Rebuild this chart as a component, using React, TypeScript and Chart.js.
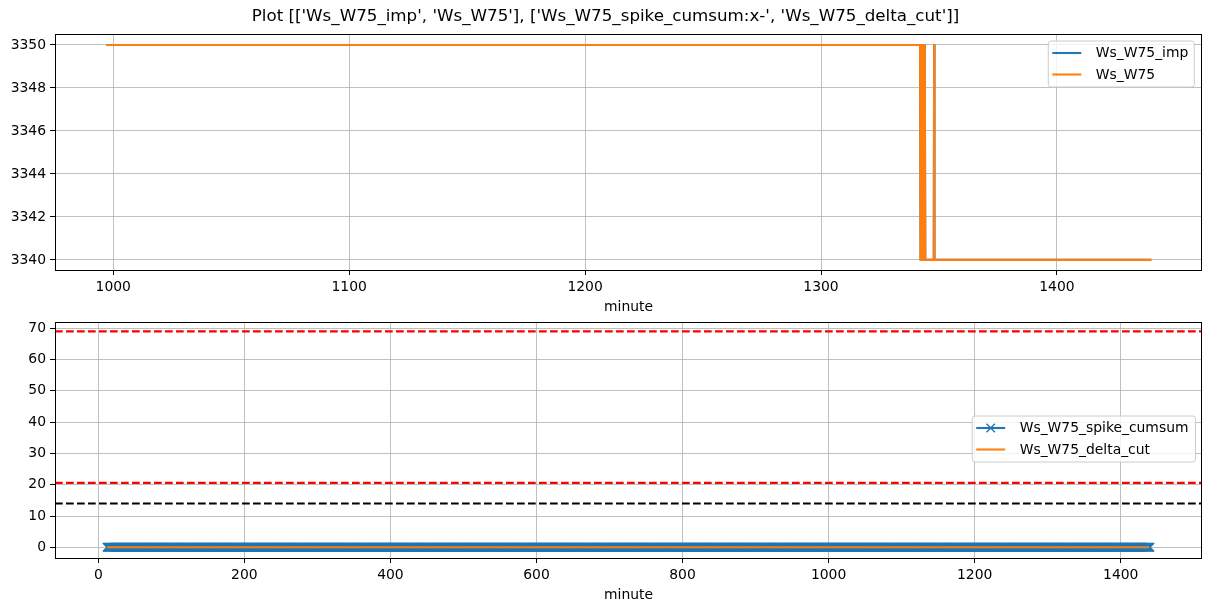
import React, { useEffect, useRef } from "react";
import { Chart, registerables } from "chart.js";

Chart.register(...registerables);

// ---------------- data ----------------
const TITLE =
  "Plot [['Ws_W75_imp', 'Ws_W75'], ['Ws_W75_spike_cumsum:x-', 'Ws_W75_delta_cut']]";

// Top panel: change points of the signal (minute, value)
const topMinutes = [
  997, 1342.0, 1342.2, 1342.4, 1342.6, 1342.8, 1343.0, 1343.2, 1343.4, 1343.6,
  1343.8, 1344.0, 1344.2, 1347.8, 1347.95, 1348.1, 1440,
];
const wsW75ImpValues = [
  3350, 3350, 3340, 3350, 3340, 3350, 3340, 3350, 3340, 3350, 3340, 3350, 3340,
  3340, 3350, 3340, 3340,
];
const wsW75Values = [
  3350, 3350, 3340, 3350, 3340, 3350, 3340, 3350, 3340, 3350, 3340, 3350, 3340,
  3340, 3350, 3340, 3340,
];
const topXTicks = [1000, 1100, 1200, 1300, 1400];
const topYTicks = [3340, 3342, 3344, 3346, 3348, 3350];

// Bottom panel: one sample per minute
const bottomFirstMinute = 12;
const bottomLastMinute = 1440;
const bottomMinutes = Array.from(
  { length: bottomLastMinute - bottomFirstMinute + 1 },
  (_, i) => bottomFirstMinute + i
);
const spikeCumsumValues = bottomMinutes.map(() => 0);
const deltaCutValues = bottomMinutes.map(() => 0);
const redCutLevels = [69.0, 20.6];
const blackCutLevels = [14.0];
const bottomXTicks = [0, 200, 400, 600, 800, 1000, 1200, 1400];
const bottomYTicks = [0, 10, 20, 30, 40, 50, 60, 70];

// ---------------- style ----------------
const FONT = "DejaVu Sans";
const FS = 13.9;
const TITLE_FS = 16.7;
const C0 = "#1f77b4";
const C1 = "#ff7f0e";
const LW = 2.08;

function drawLegend(
  ctx: CanvasRenderingContext2D,
  left: number,
  top: number,
  w: number,
  h: number,
  entries: { label: string; color: string; marker?: boolean }[]
) {
  ctx.save();
  const r = 2.8;
  ctx.beginPath();
  ctx.moveTo(left + r, top);
  ctx.lineTo(left + w - r, top);
  ctx.arcTo(left + w, top, left + w, top + r, r);
  ctx.lineTo(left + w, top + h - r);
  ctx.arcTo(left + w, top + h, left + w - r, top + h, r);
  ctx.lineTo(left + r, top + h);
  ctx.arcTo(left, top + h, left, top + h - r, r);
  ctx.lineTo(left, top + r);
  ctx.arcTo(left, top, left + r, top, r);
  ctx.closePath();
  ctx.fillStyle = "rgba(255,255,255,0.8)";
  ctx.fill();
  ctx.strokeStyle = "#cccccc";
  ctx.lineWidth = 1;
  ctx.stroke();
  entries.forEach((e, i) => {
    const y = top + 12 + i * 21.5;
    ctx.strokeStyle = e.color;
    ctx.lineWidth = LW;
    ctx.setLineDash([]);
    ctx.beginPath();
    ctx.moveTo(left + 4, y);
    ctx.lineTo(left + 33, y);
    ctx.stroke();
    if (e.marker) {
      const cx = left + 18.5;
      const m = 4.2;
      ctx.lineWidth = 1.4;
      ctx.beginPath();
      ctx.moveTo(cx - m, y - m);
      ctx.lineTo(cx + m, y + m);
      ctx.moveTo(cx - m, y + m);
      ctx.lineTo(cx + m, y - m);
      ctx.stroke();
    }
    ctx.fillStyle = "#000";
    ctx.font = `${FS}px "${FONT}"`;
    ctx.textBaseline = "middle";
    ctx.textAlign = "left";
    ctx.fillText(e.label, left + 47.5, y + 0.5);
  });
  ctx.restore();
}

const spinePlugin = {
  id: "spines",
  afterDraw(chart: any) {
    const { ctx, chartArea: ca } = chart;
    ctx.save();
    ctx.strokeStyle = "#000";
    ctx.lineWidth = 1;
    ctx.setLineDash([]);
    ctx.strokeRect(ca.left + 0.5, ca.top + 0.5, ca.right - ca.left - 1, ca.bottom - ca.top);
    ctx.restore();
  },
};

function makeOptions(p: {
  xMin: number;
  xMax: number;
  yMin: number;
  yMax: number;
  xTicks: number[];
  yTicks: number[];
  padTop: number;
  xAxisHeight: number;
  titlePadBottom: number;
}) {
  const tickFont = { family: FONT, size: FS };
  return {
    responsive: false,
    animation: false,
    events: [],
    devicePixelRatio: 1,
    layout: {
      autoPadding: false,
      padding: { top: p.padTop, right: 9, left: 0, bottom: 0 },
    },
    plugins: {
      legend: { display: false },
      tooltip: { enabled: false },
      title: { display: false },
    },
    scales: {
      x: {
        type: "linear",
        min: p.xMin,
        max: p.xMax,
        afterBuildTicks: (s: any) => {
          s.ticks = p.xTicks.map((v) => ({ value: v }));
        },
        afterFit: (s: any) => {
          s.height = p.xAxisHeight;
        },
        grid: {
          color: "#b0b0b0",
          lineWidth: 0.8,
          tickColor: "#000",
          tickLength: 5,
          tickWidth: 1,
          drawTicks: true,
        },
        border: { display: false },
        ticks: {
          color: "#000",
          font: tickFont,
          padding: 4,
          maxRotation: 0,
          autoSkip: false,
          callback: (v: any) => String(v),
        },
        title: {
          display: true,
          text: "minute",
          color: "#000",
          font: tickFont,
          padding: { top: 0, bottom: p.titlePadBottom },
        },
      },
      y: {
        type: "linear",
        min: p.yMin,
        max: p.yMax,
        afterBuildTicks: (s: any) => {
          s.ticks = p.yTicks.map((v) => ({ value: v }));
        },
        afterFit: (s: any) => {
          s.width = 55;
        },
        grid: {
          color: "#b0b0b0",
          lineWidth: 0.8,
          tickColor: "#000",
          tickLength: 5,
          tickWidth: 1,
          drawTicks: true,
        },
        border: { display: false },
        ticks: {
          color: "#000",
          font: tickFont,
          padding: 4,
          autoSkip: false,
          callback: (v: any) => String(v),
        },
      },
    },
  } as any;
}

const TOP_H = 317;
const BOT_TOP = 300;
const BOT_H = 611 - BOT_TOP;

export default function App() {
  const topRef = useRef<HTMLCanvasElement>(null);
  const botRef = useRef<HTMLCanvasElement>(null);

  useEffect(() => {
    const topTitlePlugin = {
      id: "suptitle",
      afterDraw(chart: any) {
        const { ctx } = chart;
        ctx.save();
        ctx.fillStyle = "#000";
        ctx.font = `${TITLE_FS}px "${FONT}"`;
        ctx.textAlign = "center";
        ctx.textBaseline = "middle";
        ctx.fillText(TITLE, 605.5, 16.5);
        ctx.restore();
      },
    };
    const topLegendPlugin = {
      id: "topLegend",
      afterDraw(chart: any) {
        const ca = chart.chartArea;
        const w = 146;
        drawLegend(chart.ctx, ca.right - 7.7 - w, ca.top + 7, w, 46, [
          { label: "Ws_W75_imp", color: C0 },
          { label: "Ws_W75", color: C1 },
        ]);
      },
    };
    const hlinePlugin = {
      id: "hlines",
      afterDatasetsDraw(chart: any) {
        const { ctx, chartArea: ca, scales } = chart;
        ctx.save();
        ctx.beginPath();
        ctx.rect(ca.left, ca.top, ca.right - ca.left, ca.bottom - ca.top);
        ctx.clip();
        ctx.lineWidth = LW;
        ctx.setLineDash([7.7, 3.3]);
        const draw = (v: number, color: string) => {
          const y = scales.y.getPixelForValue(v);
          ctx.strokeStyle = color;
          ctx.beginPath();
          ctx.moveTo(ca.left, y);
          ctx.lineTo(ca.right, y);
          ctx.stroke();
        };
        redCutLevels.forEach((v) => draw(v, "#ff0000"));
        blackCutLevels.forEach((v) => draw(v, "#000000"));
        ctx.restore();
      },
    };
    const botLegendPlugin = {
      id: "botLegend",
      afterDraw(chart: any) {
        const ca = chart.chartArea;
        const w = 223.3;
        const h = 46;
        const cy = (ca.top + ca.bottom) / 2 - 1;
        drawLegend(chart.ctx, ca.right - 6.5 - w, cy - h / 2, w, h, [
          { label: "Ws_W75_spike_cumsum", color: C0, marker: true },
          { label: "Ws_W75_delta_cut", color: C1 },
        ]);
      },
    };

    const top = new Chart(topRef.current!, {
      type: "line",
      data: {
        datasets: [
          {
            label: "Ws_W75_imp",
            data: topMinutes.map((m, i) => ({ x: m, y: wsW75ImpValues[i] })),
            borderColor: C0,
            backgroundColor: C0,
            borderWidth: LW,
            pointRadius: 0,
            tension: 0,
            borderJoinStyle: "round",
            order: 2,
          },
          {
            label: "Ws_W75",
            data: topMinutes.map((m, i) => ({ x: m, y: wsW75Values[i] })),
            borderColor: C1,
            backgroundColor: C1,
            borderWidth: LW,
            pointRadius: 0,
            tension: 0,
            borderJoinStyle: "round",
            order: 1,
          },
        ],
      },
      options: makeOptions({
        xMin: 975.3,
        xMax: 1461.5,
        yMin: 3339.53,
        yMax: 3350.51,
        xTicks: topXTicks,
        yTicks: topYTicks,
        padTop: 34,
        xAxisHeight: TOP_H - 270,
        titlePadBottom: 1,
      }),
      plugins: [spinePlugin, topLegendPlugin, topTitlePlugin],
    } as any);

    const bot = new Chart(botRef.current!, {
      type: "line",
      data: {
        datasets: [
          {
            label: "Ws_W75_spike_cumsum",
            data: bottomMinutes.map((m, i) => ({ x: m, y: spikeCumsumValues[i] })),
            borderColor: C0,
            backgroundColor: C0,
            borderWidth: LW,
            pointStyle: "crossRot",
            pointRadius: 6,
            pointBorderWidth: 1.4,
            pointBorderColor: C0,
            tension: 0,
            order: 2,
          },
          {
            label: "Ws_W75_delta_cut",
            data: bottomMinutes.map((m, i) => ({ x: m, y: deltaCutValues[i] })),
            borderColor: C1,
            backgroundColor: C1,
            borderWidth: LW,
            pointRadius: 0,
            tension: 0,
            order: 1,
          },
        ],
      },
      options: makeOptions({
        xMin: -59.3,
        xMax: 1511.3,
        yMin: -3.42,
        yMax: 72.0,
        xTicks: bottomXTicks,
        yTicks: bottomYTicks,
        padTop: 322 - BOT_TOP,
        xAxisHeight: 611 - 558,
        titlePadBottom: 7,
      }),
      plugins: [spinePlugin, hlinePlugin, botLegendPlugin],
    } as any);

    return () => {
      top.destroy();
      bot.destroy();
    };
  }, []);

  return (
    <div
      style={{
        position: "absolute",
        left: 0,
        top: 0,
        width: 1211,
        height: 611,
        background: "#fff",
      }}
    >
      <canvas
        ref={topRef}
        width={1211}
        height={TOP_H}
        style={{ position: "absolute", left: 0, top: 0, display: "block" }}
      />
      <canvas
        ref={botRef}
        width={1211}
        height={BOT_H}
        style={{ position: "absolute", left: 0, top: BOT_TOP, display: "block" }}
      />
    </div>
  );
}
